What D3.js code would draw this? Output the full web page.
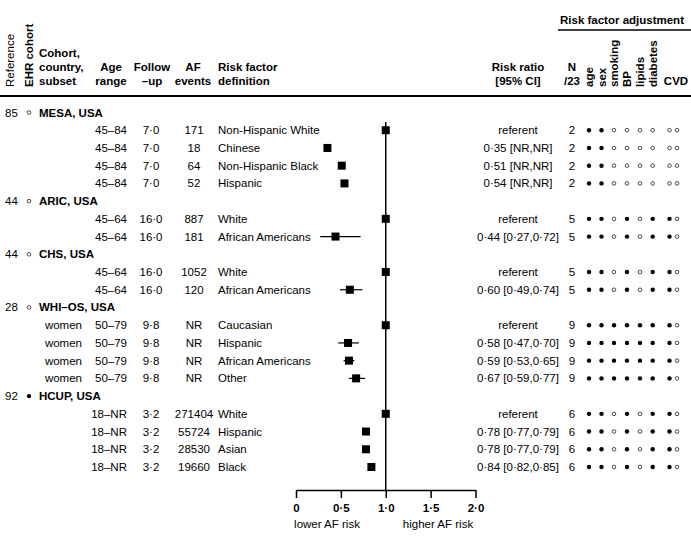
<!DOCTYPE html>
<html><head><meta charset="utf-8">
<script src="https://cdn.jsdelivr.net/npm/d3@7"></script>
<style>
body{margin:0;background:#fff;}
svg{font-family:"Liberation Sans",Arial,sans-serif;font-size:11.5px;fill:#000;}
.b{font-weight:bold;}
</style></head><body>
<svg id="c" width="691" height="539"></svg>
<script>
// ---- data ----
const cohorts = ["MESA, USA","ARIC, USA","CHS, USA","WHI–OS, USA","HCUP, USA"];
const refs = ["85","44","44","28","92"];
const ehrCohort = [false,false,false,false,true];
const nAdjusted = ["2","5","5","9","6"];
const adjFactors = ["age","sex","smoking","BP","lipids","diabetes"];
const adjMatrix = [
  [1,1,0,0,0,0],
  [1,1,0,1,0,1],
  [1,1,0,1,0,1],
  [1,1,1,1,1,1],
  [1,1,0,1,0,1]
];
const cvdAdj = [[0,0],[1,0],[1,0],[1,0],[1,0]];

const rowGroup  = [0,0,0,0,1,1,2,2,3,3,3,3,4,4,4,4];
const subsetLbl = ["","","","","","","","","women","women","women","women","","","",""];
const ageRange  = ["45–84","45–84","45–84","45–84","45–64","45–64","45–64","45–64","50–79","50–79","50–79","50–79","18–NR","18–NR","18–NR","18–NR"];
const followUp  = ["7·0","7·0","7·0","7·0","16·0","16·0","16·0","16·0","9·8","9·8","9·8","9·8","3·2","3·2","3·2","3·2"];
const afEvents  = ["171","18","64","52","887","181","1052","120","NR","NR","NR","NR","271404","55724","28530","19660"];
const riskDef   = ["Non-Hispanic White","Chinese","Non-Hispanic Black","Hispanic","White","African Americans","White","African Americans","Caucasian","Hispanic","African Americans","Other","White","Hispanic","Asian","Black"];
const rr   = [1,0.35,0.51,0.54,1,0.44,1,0.60,1,0.58,0.59,0.67,1,0.78,0.78,0.84];
const ciLo = [null,null,null,null,null,0.27,null,0.49,null,0.47,0.53,0.59,null,0.77,0.77,0.82];
const ciHi = [null,null,null,null,null,0.72,null,0.74,null,0.70,0.65,0.77,null,0.79,0.79,0.85];
const rrText = ["referent","0·35 [NR,NR]","0·51 [NR,NR]","0·54 [NR,NR]","referent","0·44 [0·27,0·72]","referent","0·60 [0·49,0·74]","referent","0·58 [0·47,0·70]","0·59 [0·53,0·65]","0·67 [0·59,0·77]","referent","0·78 [0·77,0·79]","0·78 [0·77,0·79]","0·84 [0·82,0·85]"];
const xTicks = [0,0.5,1,1.5,2];
const xTickLabels = ["0","0·5","1·0","1·5","2·0"];

// ---- layout ----
const svg = d3.select("#c");
const x = d3.scaleLinear().domain([0,2]).range([296,475.5]);
const y = d3.scaleLinear().domain([0,20]).range([112.5,467]);

// assign row indices
let idx = 0; const headerRow = []; const dataRow = [];
cohorts.forEach((c,g)=>{
  headerRow.push(idx++);
  rowGroup.forEach((rg,i)=>{ if(rg===g) dataRow[i]=idx++; });
});

const colDot = [589,601.5,614,627,640,652.7];
const colCvd = [669.5,677];

// ---- header ----
svg.append("text").attr("class","b").attr("x",622).attr("y",20).attr("text-anchor","middle").attr("dominant-baseline","central").text("Risk factor adjustment");
svg.append("line").attr("x1",558).attr("x2",691).attr("y1",30).attr("y2",30).attr("stroke","#000").attr("stroke-width",1.5);
svg.append("line").attr("x1",0).attr("x2",691).attr("y1",96).attr("y2",96).attr("stroke","#000").attr("stroke-width",2);

function rot(xc, txt, bold){
  svg.append("text").attr("class",bold?"b":null)
    .attr("transform",`translate(${xc},87) rotate(-90)`)
    .attr("dominant-baseline","central").text(txt);
}
rot(10,"Reference",false);
rot(29,"EHR cohort",true);
adjFactors.forEach((f,i)=>rot(colDot[i],f,true));

function hdr(xp, lines, anchor){
  lines.forEach((t,i)=>{
    svg.append("text").attr("class","b").attr("x",xp).attr("y",[53,67,81][3-lines.length+i])
      .attr("text-anchor",anchor).attr("dominant-baseline","central").text(t);
  });
}
hdr(39,["Cohort,","country,","subset"],"start");
hdr(111,["Age","range"],"middle");
hdr(152,["Follow","–up"],"middle");
hdr(193,["AF","events"],"middle");
hdr(218,["Risk factor","definition"],"start");
hdr(518,["Risk ratio","[95% CI]"],"middle");
hdr(572,["N","/23"],"middle");
hdr(676,["CVD"],"middle");

// ---- group headers ----
cohorts.forEach((c,g)=>{
  const yy = y(headerRow[g]);
  svg.append("text").attr("x",5).attr("y",yy).attr("dominant-baseline","central").text(refs[g]);
  svg.append("circle").attr("cx",29).attr("cy",yy).attr("r",ehrCohort[g]?2.2:1.8)
    .attr("fill",ehrCohort[g]?"#000":"#fff").attr("stroke","#000").attr("stroke-width",ehrCohort[g]?0:0.7);
  svg.append("text").attr("class","b").attr("x",39).attr("y",yy).attr("dominant-baseline","central").text(c);
});

// ---- data rows ----
rr.forEach((v,i)=>{
  const yy = y(dataRow[i]);
  const t = (xp,txt,anchor)=>svg.append("text").attr("x",xp).attr("y",yy).attr("text-anchor",anchor).attr("dominant-baseline","central").text(txt);
  if(subsetLbl[i]) t(82,subsetLbl[i],"end");
  t(127,ageRange[i],"end");
  t(151,followUp[i],"middle");
  t(194,afEvents[i],"middle");
  t(218,riskDef[i],"start");
  t(518,rrText[i],"middle");
  const g = rowGroup[i];
  t(572,nAdjusted[g],"middle");
  adjMatrix[g].forEach((a,j)=>{
    svg.append("circle").attr("cx",colDot[j]).attr("cy",yy).attr("r",a?2.2:1.8)
      .attr("fill",a?"#000":"#fff").attr("stroke","#000").attr("stroke-width",a?0:0.7);
  });
  cvdAdj[g].forEach((a,j)=>{
    svg.append("circle").attr("cx",colCvd[j]).attr("cy",yy).attr("r",a?2.2:1.8)
      .attr("fill",a?"#000":"#fff").attr("stroke","#000").attr("stroke-width",a?0:0.7);
  });
});

// ---- forest plot ----
svg.append("line").attr("x1",x(1)).attr("x2",x(1)).attr("y1",122).attr("y2",490).attr("stroke","#000").attr("stroke-width",1.5);
rr.forEach((v,i)=>{
  const yy = y(dataRow[i]);
  if(ciLo[i]!==null){
    svg.append("line").attr("x1",x(ciLo[i])).attr("x2",x(ciHi[i])).attr("y1",yy).attr("y2",yy).attr("stroke","#000").attr("stroke-width",1.2);
  }
  svg.append("rect").attr("x",x(v)-4).attr("y",yy-4).attr("width",8).attr("height",8).attr("fill","#000");
});

// axis
const ax = svg.append("g").attr("transform","translate(0,490)")
  .call(d3.axisBottom(x).tickValues(xTicks).tickFormat((d,i)=>xTickLabels[i]).tickSize(8).tickSizeOuter(0));
ax.select(".domain").attr("stroke","#000").attr("stroke-width",1.5);
ax.selectAll(".tick line").attr("stroke","#000").attr("stroke-width",1.5);
ax.selectAll(".tick text")
  .attr("font-family","Liberation Sans, Arial, sans-serif").attr("font-size","11.5px")
  .attr("font-weight","bold").attr("fill","#000")
  .attr("y",18).attr("dy",null).attr("dominant-baseline","central");
svg.append("text").attr("x",327).attr("y",524).attr("text-anchor","middle").attr("dominant-baseline","central").text("lower AF risk");
svg.append("text").attr("x",438).attr("y",524).attr("text-anchor","middle").attr("dominant-baseline","central").text("higher AF risk");
</script>
</body></html>
